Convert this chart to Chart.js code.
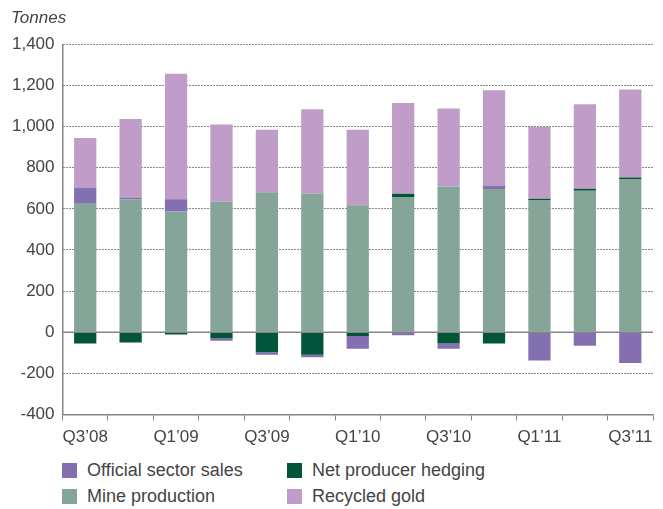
<!DOCTYPE html>
<html><head><meta charset="utf-8">
<script src="https://cdn.jsdelivr.net/npm/chart.js@4.4.1/dist/chart.umd.min.js"></script>
<style>
body{margin:0;background:#fff;width:663px;height:509px;overflow:hidden;font-family:"Liberation Sans",Arial,sans-serif;color:#444}
#wrap{position:absolute;left:0;top:0;width:663px;height:450px}
.title{position:absolute;left:11px;top:9px;font-style:italic;font-size:17px;line-height:17px}
.leg{position:absolute;font-size:18px;line-height:18px;white-space:nowrap}
.sw{position:absolute;width:15px;height:15px}
</style></head>
<body>
<div id="wrap"><canvas id="c"></canvas></div>
<div class="title">Tonnes</div>
<div id="legend"></div>
<script>
const categories = ["Q3’08","Q4’08","Q1’09","Q2’09","Q3’09","Q4’09","Q1’10","Q2’10","Q3’10","Q4’10","Q1’11","Q2’11","Q3’11"];
const tickLabels = ["Q3’08","","Q1’09","","Q3’09","","Q1’10","","Q3’10","","Q1’11","","Q3’11"];
const mineProduction = [628, 646, 587, 635, 681, 675, 617, 655, 709, 696, 641, 688, 745];
const netProducerHedging = [-55, -50, -11, -31, -97, -109, -18, 18, -55, -55, 8, 10, 7];
const officialSectorSales = [76, 9, 59, -11, -12, -13, -62, -15, -25, 18, -137, -66, -149];
const recycledGold = [241, 382, 611, 375, 303, 409, 367, 442, 379, 462, 349, 411, 428];
const yTicks = [-400, -200, 0, 200, 400, 600, 800, 1000, 1200, 1400];

const colors = {
  official: "#8470b0",
  hedging: "#00553a",
  mine: "#84a597",
  recycled: "#c09cc8"
};
const textColor = "#444";
const axisGray = "#858585";

const legendItems = [
  {label: "Official sector sales", color: colors.official, x: 62, y: 462},
  {label: "Net producer hedging", color: colors.hedging, x: 287, y: 462},
  {label: "Mine production", color: colors.mine, x: 62, y: 488},
  {label: "Recycled gold", color: colors.recycled, x: 287, y: 488}
];
const lg = document.getElementById("legend");
legendItems.forEach(it => {
  const s = document.createElement("div");
  s.className = "sw"; s.style.left = it.x + "px"; s.style.top = (it.y + 1) + "px"; s.style.background = it.color;
  lg.appendChild(s);
  const t = document.createElement("div");
  t.className = "leg"; t.style.left = (it.x + 25) + "px"; t.style.top = (it.y - 1) + "px"; t.textContent = it.label;
  lg.appendChild(t);
});

const zeroLine = {
  id: "zeroLine",
  afterDatasetsDraw(chart) {
    const y = chart.scales.y.getPixelForValue(0);
    const ctx = chart.ctx;
    ctx.save();
    ctx.strokeStyle = axisGray;
    ctx.lineWidth = 1.5;
    ctx.beginPath();
    ctx.moveTo(chart.chartArea.left, y);
    ctx.lineTo(chart.chartArea.right, y);
    ctx.stroke();
    ctx.restore();
  }
};

const ds = (label, data, color) => ({
  label, data, backgroundColor: color, borderWidth: 0,
  barPercentage: 0.49, categoryPercentage: 1.0
});

new Chart(document.getElementById("c"), {
  type: "bar",
  data: {
    labels: categories,
    datasets: [
      ds("Mine production", mineProduction, colors.mine),
      ds("Net producer hedging", netProducerHedging, colors.hedging),
      ds("Official sector sales", officialSectorSales, colors.official),
      ds("Recycled gold", recycledGold, colors.recycled)
    ]
  },
  options: {
    responsive: true,
    maintainAspectRatio: false,
    animation: false,
    layout: {padding: {top: 44.3, right: 10, left: 0, bottom: 0}},
    plugins: {legend: {display: false}, tooltip: {enabled: false}},
    scales: {
      x: {
        stacked: true,
        offset: true,
        grid: {offset: true, drawOnChartArea: false, drawTicks: true, tickLength: 6, color: axisGray, lineWidth: 1},
        border: {display: true, color: axisGray, width: 1.5},
        ticks: {
          autoSkip: false, maxRotation: 0, padding: 7, color: textColor,
          font: {family: "'Liberation Sans', Arial, sans-serif", size: 17},
          callback: (v, i) => tickLabels[i]
        },
        afterFit: s => { s.height = 35.5; }
      },
      y: {
        stacked: true,
        min: yTicks[0], max: yTicks[yTicks.length - 1],
        afterBuildTicks: s => { s.ticks = yTicks.map(v => ({value: v})); },
        grid: {
          drawTicks: false, lineWidth: 1,
          color: c => (c.tick && (c.tick.value === 0 || c.tick.value === -400)) ? "rgba(0,0,0,0)" : "#111"
        },
        border: {display: true, color: axisGray, width: 1.5, dash: [1, 2]},
        ticks: {
          padding: 8, color: textColor,
          font: {family: "'Liberation Sans', Arial, sans-serif", size: 17},
          callback: v => v.toLocaleString("en-US")
        },
        afterFit: s => { s.width = 62.5; }
      }
    }
  },
  plugins: [zeroLine]
});
</script>
</body></html>
